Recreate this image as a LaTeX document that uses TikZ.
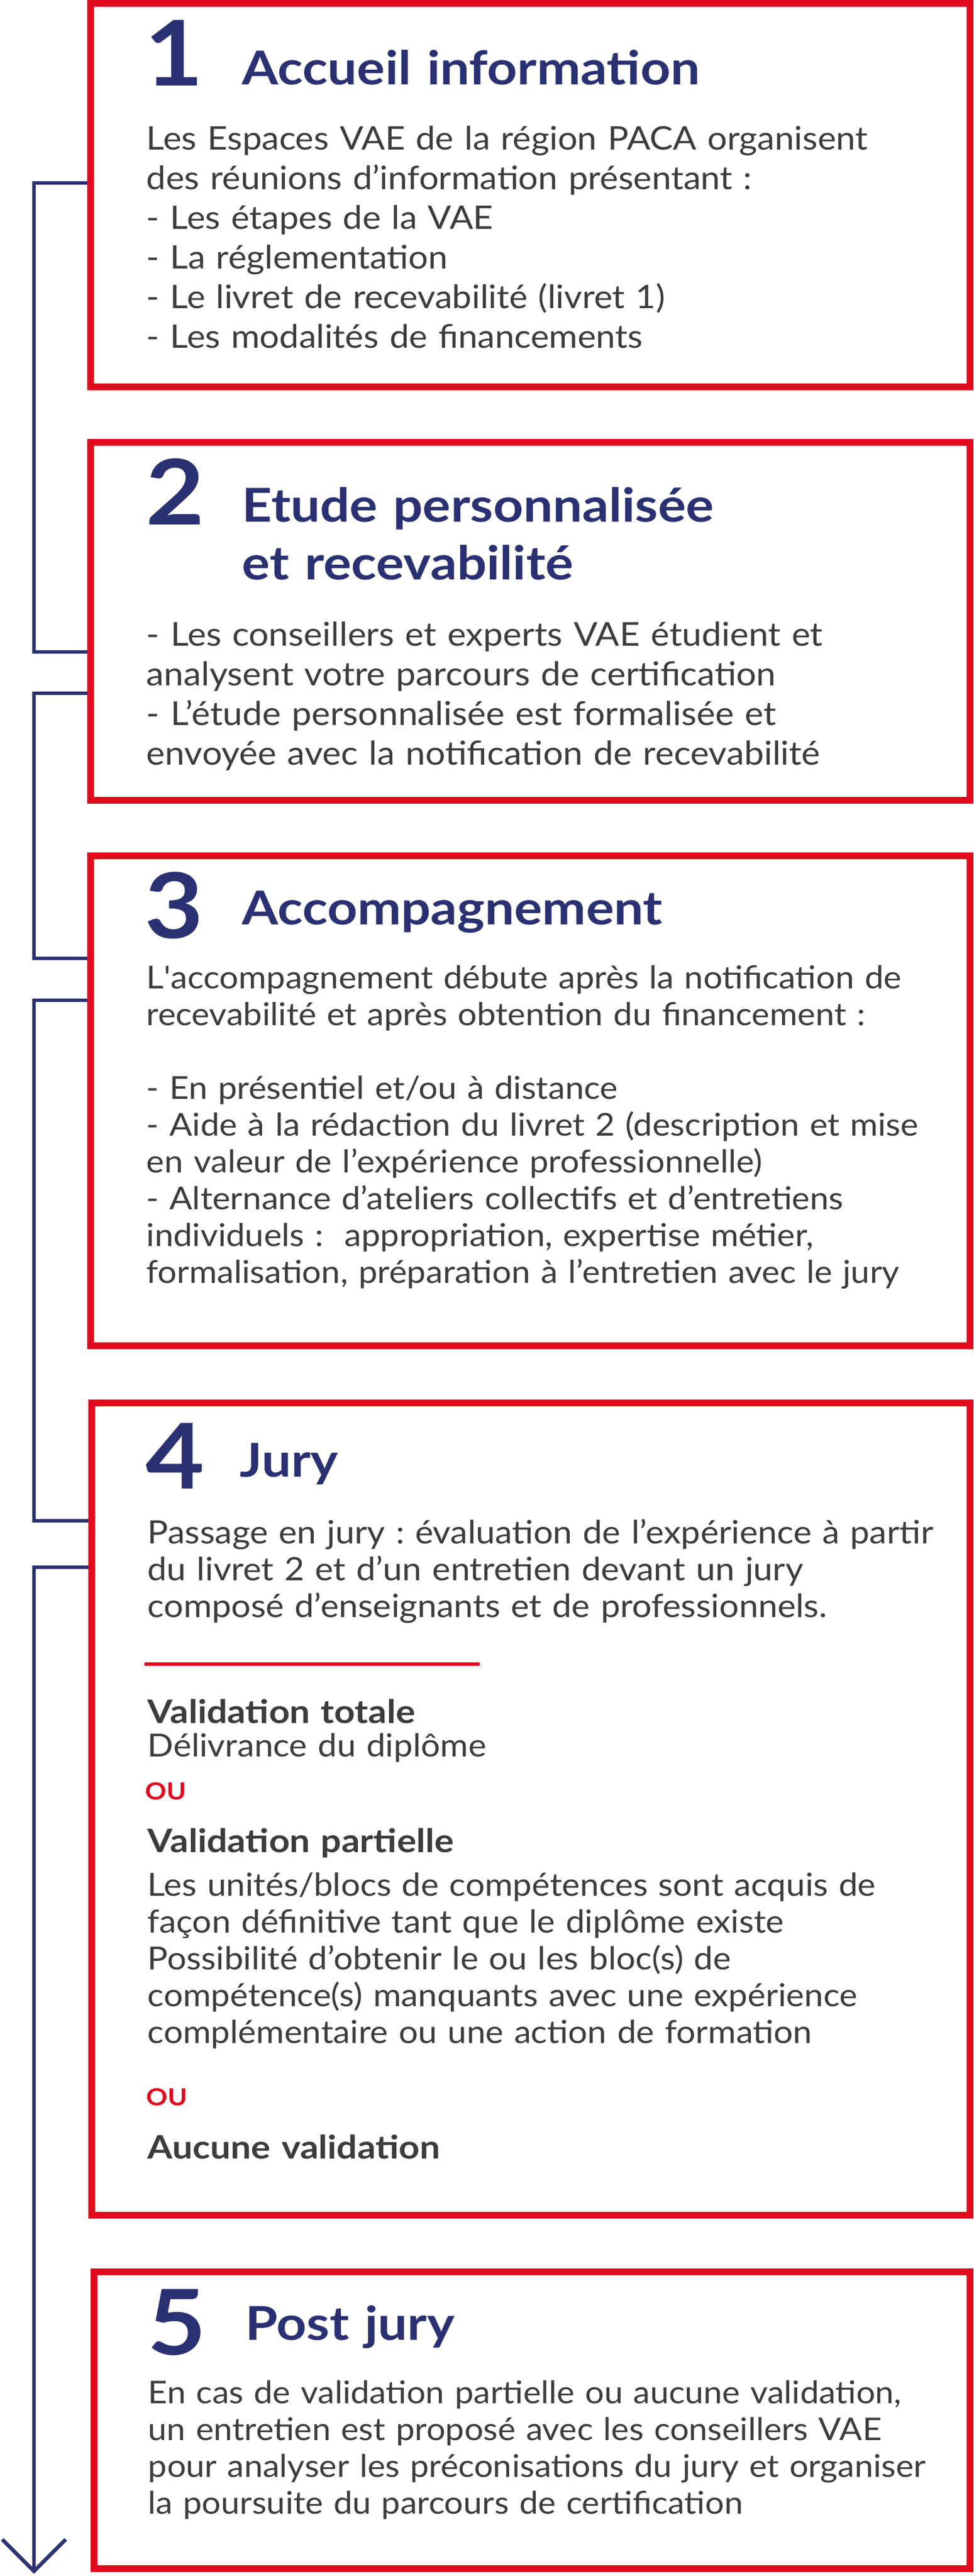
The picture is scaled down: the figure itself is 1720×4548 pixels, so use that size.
\documentclass[tikz,border=0pt]{standalone}
\usepackage{fontspec}
\setmainfont{Lato}[FakeStretch=1.075, BoldFeatures={FakeStretch=1.12}]
\usetikzlibrary{arrows.meta, fit}
\definecolor{vaeblue}{RGB}{42, 49, 115}
\definecolor{vaered}{RGB}{226, 10, 29}
\definecolor{vaegray}{RGB}{60, 60, 59}
\frenchspacing

\begin{document}
\begin{tikzpicture}[
  x=0.25pt, y=-0.25pt,
  stepbox/.style={draw=vaered, line width=3pt, inner sep=0pt},
  stepnum/.style={anchor=base west, inner sep=0pt, text=vaeblue, font=\fontsize{40}{40}\selectfont\bfseries},
  steptitle/.style={anchor=base west, inner sep=0pt, text width=300pt, align=left, text=vaeblue, font=\fontsize{20.6}{25.5}\selectfont\bfseries},
  bodytext/.style={anchor=base west, inner sep=0pt, text width=390pt, align=left, text=vaegray, font=\fontsize{#1}{16.25}\selectfont},
  bodytext/.default=14.3,
  bodyloose/.style={bodytext, font=\fontsize{#1}{17.5}\selectfont},
  bodyloose/.default=14.3,
  boldtext/.style={bodytext, font=\fontsize{14.3}{16.25}\selectfont\bfseries},
  ortext/.style={anchor=base west, inner sep=0pt, text=vaered, font=\fontsize{10.4}{10.4}\selectfont\bfseries},
  flow/.style={draw=vaeblue, line width=1.625pt}
]
  \useasboundingbox (0,0) rectangle (1720,4548);

  % the five steps
  \node[stepbox, fit={(160,6) (1713,683)}] (box1) {};
  \node[stepbox, fit={(160,781) (1713,1413)}] (box2) {};
  \node[stepbox, fit={(160,1511) (1713,2376)}] (box3) {};
  \node[stepbox, fit={(162,2477) (1713,3911)}] (box4) {};
  \node[stepbox, fit={(166,4011) (1713,4535)}] (box5) {};

  % step 1
  \node[stepnum] (num1) at (255,152) {1};
  \node[steptitle] (title1) at (427,150) {Accueil information};
  \node[bodyloose] (text1) at (258,265) {Les Espaces VAE de la région PACA organisent\\
    des réunions d’information présentant :\\
    - Les étapes de la VAE\\
    - La réglementation\\
    - Le livret de recevabilité (livret 1)\\
    - Les modalités de financements};

  % step 2
  \node[stepnum] (num2) at (257,926) {2};
  \node[steptitle] (title2) at (427,921) {Etude personnalisée\\et recevabilité};
  \node[bodyloose=14.5] (text2) at (258,1140) {- Les conseillers et experts VAE étudient et\\
    analysent votre parcours de certification\\
    - L’étude personnalisée est formalisée et\\
    envoyée avec la notification de recevabilité};

  % step 3
  \node[stepnum] (num3) at (255,1656) {3};
  \node[steptitle] (title3) at (427,1632) {Accompagnement};
  \node[bodytext=13.9] (text3) at (258,1745) {L{\addfontfeatures{Ligatures=TeXOff}'}accompagnement débute après la notification de\\
    recevabilité et après obtention du financement :\\[16.25pt]
    - En présentiel et/ou à distance\\
    - Aide à la rédaction du livret 2 (description et mise\\
    en valeur de l’expérience professionnelle)\\
    - Alternance d’ateliers collectifs et d’entretiens\\
    individuels :\ \ appropriation, expertise métier,\\
    formalisation, préparation à l’entretien avec le jury};

  % step 4
  \node[stepnum] (num4) at (257,2628) {4};
  \node[steptitle] (title4) at (423,2607) {Jury};
  \node[bodytext=14.2] (text4) at (260,2725) {Passage en jury : évaluation de l’expérience à partir\\
    du livret 2 et d’un entretien devant un jury\\
    composé d’enseignants et de professionnels.};
  \draw[vaered, line width=1.3pt] (255,2938) -- (847,2938);
  \node[boldtext] (total) at (260,3042) {Validation totale};
  \node[bodytext=14] (totaltext) at (260,3101) {Délivrance du diplôme};
  \node[ortext] (or1) at (256,3177) {OU};
  \node[boldtext] (partial) at (260,3270) {Validation partielle};
  \node[bodytext=14] (partialtext) at (260,3347) {Les unités/blocs de compétences sont acquis de\\
    façon définitive tant que le diplôme existe\\
    Possibilité d’obtenir le ou les bloc(s) de\\
    compétence(s) manquants avec une expérience\\
    complémentaire ou une action de formation};
  \node[ortext] (or2) at (258,3717) {OU};
  \node[boldtext] (none) at (260,3811) {Aucune validation};

  % step 5
  \node[stepnum] (num5) at (260,4157) {5};
  \node[steptitle] (title5) at (433,4131) {Post jury};
  \node[bodytext=13.8] (text5) at (261,4243) {En cas de validation partielle ou aucune validation,\\
    un entretien est proposé avec les conseillers VAE\\
    pour analyser les préconisations du jury et organiser\\
    la poursuite du parcours de certification};

  % rail on the left
  \coordinate (out1) at (60,323);
  \coordinate (in2) at (60,1151);
  \coordinate (out2) at (60,1224);
  \coordinate (in3) at (60,1692);
  \coordinate (out3) at (60,1766);
  \coordinate (in4) at (60,2685);
  \coordinate (out4) at (60,2767);
  \coordinate (railend) at (60,4544);
  \draw[flow] (box1.west |- out1) -- (out1) -- (in2) -- (box2.west |- in2);
  \draw[flow] (box2.west |- out2) -- (out2) -- (in3) -- (box3.west |- in3);
  \draw[flow] (box3.west |- out3) -- (out3) -- (in4) -- (box4.west |- in4);
  \draw[flow, -{Straight Barb[length=14pt, width=28pt]}] (box4.west |- out4) -- (out4) -- (railend);
\end{tikzpicture}
\end{document}
